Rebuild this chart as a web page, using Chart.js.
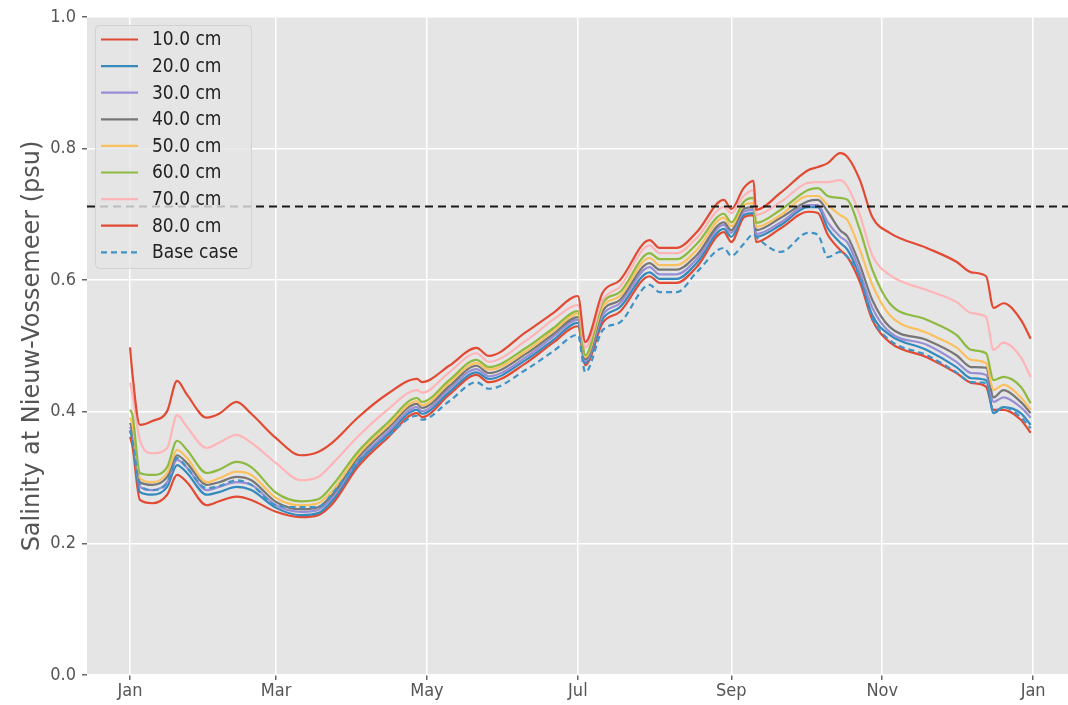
<!DOCTYPE html>
<html>
<head>
<meta charset="utf-8">
<script src="https://cdn.jsdelivr.net/npm/chart.js@4.4.1/dist/chart.umd.min.js"></script>
<style>
  html, body { margin: 0; padding: 0; background: #ffffff; }
  canvas { display: block; }
</style>
</head>
<body>
<canvas id="chart" width="1068" height="705"></canvas>
<script>
// Day of year for every sample
const days = [0, 1, 4, 9, 15, 19, 23, 31, 36, 43,
  49, 59, 69, 76, 82, 92, 104, 116, 118, 129,
  140, 145, 160, 171, 181, 184, 191, 198, 210, 214,
  221, 229, 240, 243, 248, 252, 253, 263, 274, 278,
  282, 287, 290, 295, 300, 307, 322, 334, 340, 346,
  349, 353, 360, 364];

// Salinity (psu) per depth
const sal10 = [0.362, 0.347, 0.266, 0.261, 0.274, 0.304, 0.293, 0.258, 0.264, 0.271,
  0.266, 0.248, 0.240, 0.243, 0.261, 0.316, 0.360, 0.398, 0.392, 0.426,
  0.456, 0.445, 0.474, 0.505, 0.530, 0.471, 0.535, 0.552, 0.606, 0.596,
  0.596, 0.620, 0.673, 0.658, 0.695, 0.699, 0.658, 0.679, 0.704, 0.702,
  0.669, 0.646, 0.635, 0.597, 0.540, 0.506, 0.483, 0.459, 0.444, 0.438,
  0.403, 0.403, 0.388, 0.368];
const sal20 = [0.371, 0.357, 0.278, 0.274, 0.286, 0.319, 0.307, 0.274, 0.278, 0.286,
  0.281, 0.254, 0.243, 0.246, 0.266, 0.321, 0.365, 0.403, 0.397, 0.430,
  0.460, 0.450, 0.479, 0.509, 0.535, 0.474, 0.541, 0.559, 0.612, 0.602,
  0.602, 0.626, 0.678, 0.666, 0.699, 0.702, 0.666, 0.684, 0.711, 0.711,
  0.679, 0.657, 0.646, 0.605, 0.547, 0.517, 0.494, 0.468, 0.451, 0.448,
  0.398, 0.407, 0.398, 0.380];
const sal30 = [0.377, 0.365, 0.286, 0.281, 0.293, 0.327, 0.315, 0.281, 0.286, 0.293,
  0.289, 0.258, 0.248, 0.251, 0.271, 0.325, 0.369, 0.407, 0.401, 0.435,
  0.465, 0.454, 0.483, 0.514, 0.540, 0.477, 0.547, 0.565, 0.620, 0.609,
  0.609, 0.632, 0.684, 0.672, 0.704, 0.707, 0.670, 0.688, 0.714, 0.714,
  0.688, 0.666, 0.657, 0.612, 0.558, 0.521, 0.502, 0.476, 0.459, 0.456,
  0.415, 0.422, 0.407, 0.391];
const sal40 = [0.383, 0.372, 0.293, 0.289, 0.301, 0.334, 0.322, 0.289, 0.293, 0.301,
  0.296, 0.263, 0.252, 0.255, 0.275, 0.330, 0.374, 0.412, 0.406, 0.439,
  0.470, 0.459, 0.488, 0.518, 0.544, 0.480, 0.553, 0.570, 0.626, 0.616,
  0.616, 0.638, 0.688, 0.676, 0.708, 0.711, 0.676, 0.695, 0.720, 0.722,
  0.704, 0.676, 0.666, 0.623, 0.570, 0.529, 0.509, 0.486, 0.468, 0.467,
  0.422, 0.433, 0.415, 0.398];
const sal50 = [0.391, 0.380, 0.299, 0.293, 0.307, 0.342, 0.330, 0.293, 0.299, 0.309,
  0.304, 0.269, 0.258, 0.261, 0.281, 0.334, 0.378, 0.416, 0.410, 0.444,
  0.474, 0.464, 0.492, 0.523, 0.549, 0.483, 0.559, 0.576, 0.634, 0.623,
  0.623, 0.646, 0.695, 0.682, 0.714, 0.717, 0.681, 0.699, 0.728, 0.728,
  0.714, 0.699, 0.691, 0.646, 0.593, 0.547, 0.520, 0.498, 0.479, 0.474,
  0.433, 0.441, 0.422, 0.403];
const sal60 = [0.403, 0.395, 0.307, 0.304, 0.316, 0.356, 0.342, 0.307, 0.312, 0.324,
  0.316, 0.277, 0.264, 0.267, 0.289, 0.339, 0.383, 0.421, 0.415, 0.448,
  0.479, 0.468, 0.497, 0.527, 0.553, 0.486, 0.565, 0.582, 0.641, 0.632,
  0.632, 0.655, 0.701, 0.688, 0.719, 0.725, 0.687, 0.707, 0.737, 0.740,
  0.728, 0.725, 0.722, 0.676, 0.616, 0.565, 0.540, 0.517, 0.494, 0.489,
  0.448, 0.453, 0.438, 0.413];
const sal70 = [0.444, 0.426, 0.357, 0.337, 0.345, 0.395, 0.377, 0.345, 0.353, 0.365,
  0.353, 0.322, 0.296, 0.301, 0.322, 0.362, 0.403, 0.433, 0.429, 0.460,
  0.489, 0.476, 0.508, 0.540, 0.562, 0.498, 0.570, 0.590, 0.653, 0.641,
  0.641, 0.664, 0.711, 0.702, 0.728, 0.737, 0.699, 0.719, 0.748, 0.749,
  0.749, 0.752, 0.742, 0.699, 0.638, 0.608, 0.585, 0.567, 0.550, 0.544,
  0.494, 0.505, 0.483, 0.453];
const sal80 = [0.498, 0.456, 0.380, 0.386, 0.401, 0.447, 0.426, 0.391, 0.397, 0.415,
  0.397, 0.360, 0.334, 0.339, 0.354, 0.391, 0.427, 0.450, 0.445, 0.470,
  0.497, 0.485, 0.521, 0.550, 0.576, 0.506, 0.581, 0.600, 0.661, 0.649,
  0.649, 0.673, 0.722, 0.708, 0.740, 0.751, 0.707, 0.733, 0.767, 0.772,
  0.778, 0.793, 0.787, 0.752, 0.696, 0.672, 0.649, 0.628, 0.612, 0.606,
  0.558, 0.565, 0.540, 0.511];
const salBase = [0.372, 0.357, 0.289, 0.281, 0.292, 0.330, 0.315, 0.284, 0.287, 0.296,
  0.289, 0.258, 0.255, 0.255, 0.277, 0.324, 0.362, 0.394, 0.388, 0.416,
  0.445, 0.435, 0.464, 0.492, 0.517, 0.460, 0.524, 0.536, 0.593, 0.582,
  0.582, 0.612, 0.649, 0.637, 0.655, 0.670, 0.666, 0.643, 0.672, 0.669,
  0.635, 0.643, 0.635, 0.605, 0.543, 0.509, 0.486, 0.460, 0.445, 0.444,
  0.400, 0.407, 0.392, 0.375];

const seriesLabels = ['10.0 cm', '20.0 cm', '30.0 cm', '40.0 cm', '50.0 cm', '60.0 cm', '70.0 cm', '80.0 cm', 'Base case'];
const seriesValues = [sal10, sal20, sal30, sal40, sal50, sal60, sal70, sal80, salBase];
const seriesColors = ['#E24A33', '#348ABD', '#988ED5', '#777777', '#FBC15E', '#8EBA42', '#FFB5B8', '#E24A33', '#3F93C6'];

// Threshold and axis
const threshold = 0.712;
const xMin = -17.4, xMax = 379.1;
const monthTicks = [0, 59, 120, 181, 243, 304, 365];
const monthLabels = ['Jan', 'Mar', 'May', 'Jul', 'Sep', 'Nov', 'Jan'];

const tickFont = { family: '"DejaVu Sans Condensed", "DejaVu Sans", sans-serif', size: 18 };

const datasets = seriesValues.map((vals, i) => ({
  label: seriesLabels[i],
  data: days.map((d, k) => ({ x: d, y: vals[k] })),
  borderColor: seriesColors[i],
  borderWidth: 2.2,
  borderDash: seriesLabels[i] === 'Base case' ? [6, 4] : [],
  pointRadius: 0,
  fill: false,
  cubicInterpolationMode: 'monotone',
  order: 20 - i
}));

datasets.push({
  label: 'threshold',
  hideInLegend: true,
  data: [{ x: xMin, y: threshold }, { x: xMax, y: threshold }],
  borderColor: '#1a1a1a',
  borderWidth: 2,
  borderDash: [8, 5],
  pointRadius: 0,
  order: 0
});

// Grey plot background (ggplot look)
const plotBg = {
  id: 'plotBg',
  beforeDraw(chart) {
    const a = chart.chartArea;
    const ctx = chart.ctx;
    ctx.save();
    ctx.fillStyle = '#E5E5E5';
    ctx.fillRect(a.left, a.top, a.right - a.left, a.bottom - a.top);
    ctx.restore();
  }
};

// Legend inside the plot, upper left
const insideLegend = {
  id: 'insideLegend',
  afterDatasetsDraw(chart) {
    const ctx = chart.ctx;
    const items = chart.data.datasets.filter(d => !d.hideInLegend);
    ctx.save();
    ctx.beginPath();
    ctx.roundRect(95.5, 25.5, 156, 243, 4);
    ctx.fillStyle = 'rgba(229,229,229,0.8)';
    ctx.fill();
    ctx.strokeStyle = 'rgba(204,204,204,0.8)';
    ctx.lineWidth = 1;
    ctx.stroke();
    ctx.font = '19px "DejaVu Sans Condensed", "DejaVu Sans", sans-serif';
    ctx.textBaseline = 'middle';
    items.forEach((d, i) => {
      const y = 39.5 + i * 26.6;
      ctx.setLineDash(d.borderDash || []);
      ctx.strokeStyle = d.borderColor;
      ctx.lineWidth = 2.2;
      ctx.beginPath();
      ctx.moveTo(101, y);
      ctx.lineTo(138, y);
      ctx.stroke();
      ctx.setLineDash([]);
      ctx.fillStyle = '#222222';
      ctx.fillText(d.label, 152, y + 1);
    });
    ctx.restore();
  }
};

new Chart(document.getElementById('chart').getContext('2d'), {
  type: 'line',
  data: { datasets: datasets },
  options: {
    responsive: false,
    animation: false,
    layout: { padding: { top: 17, right: 0, bottom: 0, left: 0 } },
    plugins: {
      legend: { display: false },
      tooltip: { enabled: false }
    },
    scales: {
      x: {
        type: 'linear',
        min: xMin,
        max: xMax,
        afterBuildTicks: s => { s.ticks = monthTicks.map(v => ({ value: v })); },
        afterFit: s => { s.height = 30; },
        border: { display: false },
        grid: { color: '#ffffff', lineWidth: 1.5, tickColor: '#666666', tickLength: 5 },
        ticks: {
          color: '#555555',
          font: tickFont,
          padding: 1,
          maxRotation: 0,
          autoSkip: false,
          callback: v => monthLabels[monthTicks.indexOf(v)]
        }
      },
      y: {
        min: 0,
        max: 1,
        afterFit: s => { s.width = 87; },
        border: { display: false },
        grid: { color: '#ffffff', lineWidth: 1.5, tickColor: '#666666', tickLength: 5 },
        ticks: {
          stepSize: 0.2,
          color: '#555555',
          font: tickFont,
          padding: 6,
          callback: v => v.toFixed(1)
        },
        title: {
          display: true,
          text: 'Salinity at Nieuw-Vossemeer (psu)',
          color: '#555555',
          font: { family: '"DejaVu Sans", sans-serif', size: 24 },
          padding: { top: 18, bottom: 0 }
        }
      }
    }
  },
  plugins: [plotBg, insideLegend]
});
</script>
</body>
</html>
